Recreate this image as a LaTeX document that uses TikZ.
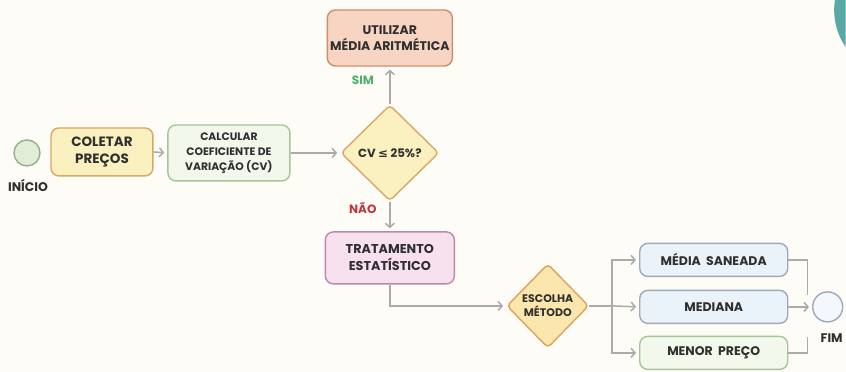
\documentclass[tikz,border=0pt]{standalone}
\usepackage{fontspec}
\setmainfont{Poppins}
\newfontfamily\symfont{DejaVu Sans}
\usetikzlibrary{shapes.geometric,arrows.meta}
\definecolor{bgcol}{HTML}{FDFCF7}
\definecolor{ink}{HTML}{2F2F2F}
\definecolor{wiregray}{HTML}{ABABAB}
\definecolor{yelfill}{HTML}{FBF1C0}
\definecolor{yeldraw}{HTML}{D9A766}
\definecolor{grnfill}{HTML}{F2F8EB}
\definecolor{grndraw}{HTML}{A6C698}
\definecolor{inifill}{HTML}{E2EDD8}
\definecolor{inidraw}{HTML}{95B089}
\definecolor{peafill}{HTML}{F8D4C2}
\definecolor{peadraw}{HTML}{CC8E6C}
\definecolor{pnkfill}{HTML}{F7E1EE}
\definecolor{pnkdraw}{HTML}{B98AAE}
\definecolor{blufill}{HTML}{EAF2FA}
\definecolor{bludraw}{HTML}{9EAAB8}
\definecolor{simgreen}{HTML}{4CAF6A}
\definecolor{naored}{HTML}{C8303C}
\definecolor{tealcol}{HTML}{5BA9A6}

\begin{document}
\begin{tikzpicture}
    [x=1pt, y=-1pt,
 box/.style ={rectangle, draw, line width=1.4pt, rounded corners=8pt, align=center, text=ink, inner sep=2pt},
 choice/.style ={diamond, draw, line width=1.4pt, rounded corners=4pt, align=center, aspect=1, inner sep=0pt, text=ink},
 term/.style ={circle, draw, line width=1.4pt, inner sep=0pt},
 line/.style ={draw=wiregray, line width=1.5pt, -{Straight Barb[length=4pt,width=9pt]}, shorten >=3pt},
 wire/.style ={draw=wiregray, line width=1.5pt},
 tag/.style ={font=\bfseries\fontsize{12}{14}\selectfont}]
        \fill[bgcol] (0,0) rectangle (846,372);
        \begin{scope}
            \clip (0,0) rectangle (846,372);
            \fill[tealcol] (900,10) circle (65.5);
        \end{scope}
        % start and first steps
        \node[term, fill=inifill, draw=inidraw, minimum size=26pt] (ini) at (27,153) {};
        \node[tag, text=ink, font=\bfseries\fontsize{12.5}{14}\selectfont] (initxt) at (28,186) {INÍCIO};
        \node[box, fill=yelfill, draw=yeldraw, minimum width=102pt, minimum height=48pt, font=\bfseries\fontsize{13.5}{17}\selectfont] (col) at (102,152) {COLETAR\\PREÇOS};
        \node[box, fill=grnfill, draw=grndraw, minimum width=122pt, minimum height=56pt, font=\bfseries\fontsize{10.8}{15}\selectfont] (calc) at (229,153) {CALCULAR\\COEFICIENTE DE\\VARIAÇÃO (CV)};
        \node[choice, fill=yelfill, draw=yeldraw, minimum width=98pt, minimum height=96pt, font=\bfseries\fontsize{11.8}{14}\selectfont] (cv) at (390,153) {CV {\symfont\bfseries ≤} 25\%?};
        \node[box, fill=peafill, draw=peadraw, minimum width=125pt, minimum height=56pt, font=\bfseries\fontsize{12.5}{16}\selectfont] (util) at (390,38) {UTILIZAR\\MÉDIA ARITMÉTICA};
        \node[box, fill=pnkfill, draw=pnkdraw, minimum width=129pt, minimum height=52pt, font=\bfseries\fontsize{12.8}{17}\selectfont] (trat) at (390,258) {TRATAMENTO\\ESTATÍSTICO};
        \node[tag, text=simgreen] (sim) at (363,80) {SIM};
        \node[tag, text=naored] (nao) at (363,208) {NÃO};
        % choice of method
        \node[choice, fill=yelfill!90!orange, draw=yeldraw!90!orange, minimum width=82pt, minimum height=84pt, font=\bfseries\fontsize{11}{14}\selectfont] (esc) at (548,306) {ESCOLHA\\MÉTODO};
        \node[box, fill=blufill, draw=bludraw, minimum width=148pt, minimum height=33pt, font=\bfseries\fontsize{12.5}{14}\selectfont] (ms) at (714,260) {MÉDIA\ \ SANEADA};
        \node[box, fill=blufill, draw=bludraw, minimum width=148pt, minimum height=33pt, font=\bfseries\fontsize{12.5}{14}\selectfont] (med) at (714,307) {MEDIANA};
        \node[box, fill=grnfill, draw=grndraw, minimum width=148pt, minimum height=33pt, font=\bfseries\fontsize{12.5}{14}\selectfont] (mp) at (714,353) {MENOR\ \ PREÇO};
        \node[term, fill=blufill!50!white, draw=bludraw, minimum size=30pt] (fim) at (828,307) {};
        \node[tag, text=ink, font=\bfseries\fontsize{12.5}{14}\selectfont] (fimtxt) at (832,338) {FIM};
        \coordinate (fork) at (612,306);
        \coordinate (jtop) at (808,295);
        \coordinate (jbot) at (808,337);
        % connectors
        \draw[line] (col.east) -- (calc.west);
        \draw[line] (calc.east) -- (cv.west);
        \draw[line] (cv.north) -- (util.south);
        \draw[line] (cv.south) -- (trat.north);
        \draw[line] (trat.south) |- (esc.west);
        \draw[wire] (esc.east) -- (fork);
        \draw[line] (fork) |- (ms.west);
        \draw[line] (fork) -- (med.west);
        \draw[line] (fork) |- (mp.west);
        \draw[wire] (ms.east) -| (jtop);
        \draw[wire] (mp.east) -| (jbot);
        \draw[line] (med.east) -- (fim.west);
    \end{tikzpicture}
\end{document}
